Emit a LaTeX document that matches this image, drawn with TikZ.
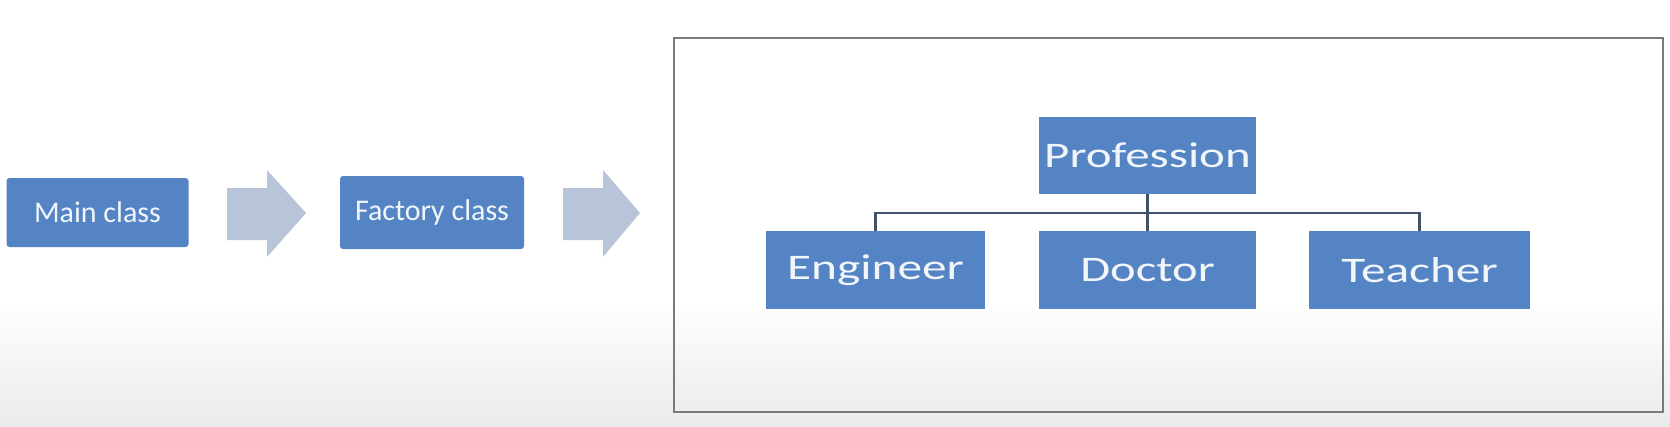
\documentclass[tikz,border=0pt]{standalone}
\usepackage{fontspec}
\setmainfont{Carlito}
\usetikzlibrary{positioning}
\definecolor{boxblue}{HTML}{5484C4}
\definecolor{arrowgray}{HTML}{B8C4D8}
\definecolor{framegray}{HTML}{7A7A7A}
\definecolor{linecol}{HTML}{42526A}
\definecolor{txtwhite}{HTML}{F2F6FB}
\begin{document}
\begin{tikzpicture}[x=1pt,y=-1pt,
  classbox/.style={fill=boxblue, draw=none, rounded corners=3pt, text=txtwhite, inner sep=0pt,
     font=\fontsize{30}{30}\selectfont},
  orgbox/.style={fill=boxblue, draw=none, text=txtwhite, inner sep=0pt,
     minimum height=78pt, font=\fontsize{36}{36}\selectfont},
  blockarrow/.style={fill=arrowgray, draw=none},
  tree/.style={draw=linecol, line width=2.5pt},
  frame/.style={draw=framegray, line width=2.5pt}]
% background
\fill[white] (0,0) rectangle (1670,426);
\shade[top color=white, bottom color=black!8] (0,300) rectangle (1670,426);
\useasboundingbox (0,0) rectangle (1670,426);

% left flow
\node[classbox, minimum width=182pt, minimum height=69pt] (main) at (97.5,212.5) {Main class};
\node[classbox, minimum width=184pt, minimum height=73pt] (factory) at (432,212.5) {Factory class};
\fill[blockarrow] (227,188) -- (267,188) -- (267,170) -- (306,213) -- (267,257) -- (267,240) -- (227,240) -- cycle;
\fill[blockarrow] (563,188) -- (603,188) -- (603,170) -- (640,213) -- (603,257) -- (603,240) -- (563,240) -- cycle;

% frame
\draw[frame] (674,38) rectangle (1663,412);

% org chart
\node[orgbox, minimum width=217pt, minimum height=77pt] (prof) at (1147.5,155.5) {\scalebox{1.36}[1]{Profession}};
\node[orgbox, minimum width=219pt] (eng) at (875.5,270) {\scalebox{1.37}[1]{Engineer}};
\node[orgbox, minimum width=217pt] (doc) at (1147.5,270) {\scalebox{1.35}[1]{Doctor}};
\node[orgbox, minimum width=221pt] (tea) at (1419.5,270) {\scalebox{1.37}[1]{Teacher}};

\coordinate (hl) at (eng.north |- 0,213);
\coordinate (hr) at (tea.north |- 0,213);
\draw[tree] (eng.north) -- (hl) -- (hr) -- (tea.north);
\draw[tree] (prof.south) -- (doc.north);
\end{tikzpicture}
\end{document}
